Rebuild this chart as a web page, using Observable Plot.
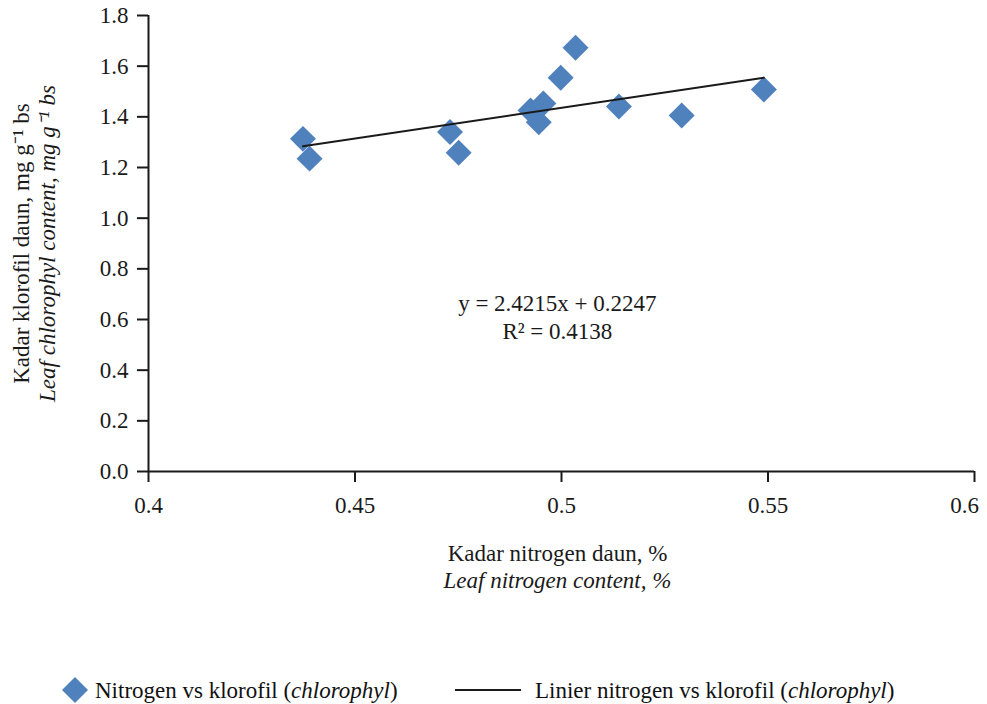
<!DOCTYPE html>
<html><head><meta charset="utf-8">
<script src="https://cdn.jsdelivr.net/npm/d3@7"></script>
<script src="https://cdn.jsdelivr.net/npm/@observablehq/plot@0.6"></script>
<style>
*{font-family:"Liberation Serif","Times New Roman",Times,serif !important;}
body{margin:0;background:#fff;}
#legend{position:relative;width:987px;height:44px;font-size:23px;color:#111;}
#legend .it{position:absolute;top:30px;transform:translateY(-50%);white-space:nowrap;line-height:1;}
</style></head><body><div id="chart"></div><div id="legend"></div>
<script>
// Data
const nitrogen    = [0.4374, 0.4390, 0.4730, 0.4751, 0.4925, 0.4956, 0.4945, 0.4998, 0.5034, 0.5139, 0.5291, 0.5490];
const chlorophyll = [1.313, 1.235, 1.340, 1.258, 1.425, 1.453, 1.379, 1.554, 1.673, 1.441, 1.405, 1.508];
const xTicks = [0.4, 0.45, 0.5, 0.55, 0.6];
const yTicks = [0, 0.2, 0.4, 0.6, 0.8, 1.0, 1.2, 1.4, 1.6, 1.8];
const slope = 2.4215, intercept = 0.2247, rSquared = 0.4138;
const eqText = ["y = 2.4215x + 0.2247\nR² = 0.4138"];
const yTitle = ["Kadar klorofil daun, mg g⁻¹ bs"];
const yTitleEn = ["Leaf chlorophyl content, mg g⁻¹ bs"];
const xTitle = ["Kadar nitrogen daun, %"];
const xTitleEn = ["Leaf nitrogen content, %"];
const seriesName = "Nitrogen vs klorofil (<i>chlorophyl</i>)";
const trendName = "Linier nitrogen vs klorofil (<i>chlorophyl</i>)";

const points = nitrogen.map((x, i) => ({x, y: chlorophyll[i]}));
const trend = d3.extent(nitrogen).map(x => ({x, y: slope * x + intercept}));
const blue = "#4F81BD", ink = "#1a1a1a";
const serif = "Liberation Serif";
const lastX = xTicks[xTicks.length - 1];
const fmtX = d => String(d);

const plot = Plot.plot({
  width: 987, height: 660,
  marginTop: 15, marginBottom: 189, marginLeft: 148, marginRight: 13,
  x: {domain: [0.4, 0.6]},
  y: {domain: [0, 1.8]},
  style: {fontFamily: serif, fontSize: "23px", color: ink, background: "#fff"},
  marks: [
    Plot.axisY({ticks: yTicks, tickSize: 11, tickPadding: 9, tickFormat: d3.format(".1f"), label: null, strokeWidth: 2}),
    Plot.axisX({ticks: xTicks, tickSize: 11, tickPadding: 14, tickFormat: d => d === lastX ? "" : fmtX(d), label: null, strokeWidth: 2}),
    Plot.axisX({ticks: [lastX], tickSize: 0, tickPadding: 25, dx: -10, tickFormat: fmtX, label: null}),
    Plot.ruleX([0.4], {stroke: ink, strokeWidth: 2}),
    Plot.ruleY([0], {stroke: ink, strokeWidth: 2}),
    Plot.dot(points, {x: "x", y: "y", symbol: "diamond2", r: 11.7, fill: blue, stroke: "none"}),
    Plot.line(trend, {x: "x", y: "y", stroke: ink, strokeWidth: 2}),
    Plot.text(eqText, {x: 0.499, y: 0.612, text: d => d, lineHeight: 1.22, fill: ink}),
    Plot.text(yTitle, {frameAnchor: "left", textAnchor: "middle", lineAnchor: "middle", rotate: -90, dx: -127, text: d => d, fill: ink}),
    Plot.text(yTitleEn, {frameAnchor: "left", textAnchor: "middle", lineAnchor: "middle", rotate: -90, dx: -101, text: d => d, fill: ink, fontStyle: "italic"}),
    Plot.text(xTitle, {frameAnchor: "bottom", textAnchor: "middle", lineAnchor: "middle", dx: -4, dy: 82, text: d => d, fill: ink}),
    Plot.text(xTitleEn, {frameAnchor: "bottom", textAnchor: "middle", lineAnchor: "middle", dx: -4, dy: 109, text: d => d, fill: ink, fontStyle: "italic"})
  ]
});
document.getElementById("chart").appendChild(plot);

const legend = document.getElementById("legend");
legend.innerHTML =
  `<svg class="it" style="left:62px" width="26" height="26"><path d="M13,0L26,13L13,26L0,13Z" fill="${blue}"/></svg>` +
  `<span class="it" style="left:95px">${seriesName}</span>` +
  `<svg class="it" style="left:455px" width="66" height="4"><line x1="0" x2="66" y1="2" y2="2" stroke="${ink}" stroke-width="2"/></svg>` +
  `<span class="it" style="left:535px">${trendName}</span>`;
</script>
</body></html>
